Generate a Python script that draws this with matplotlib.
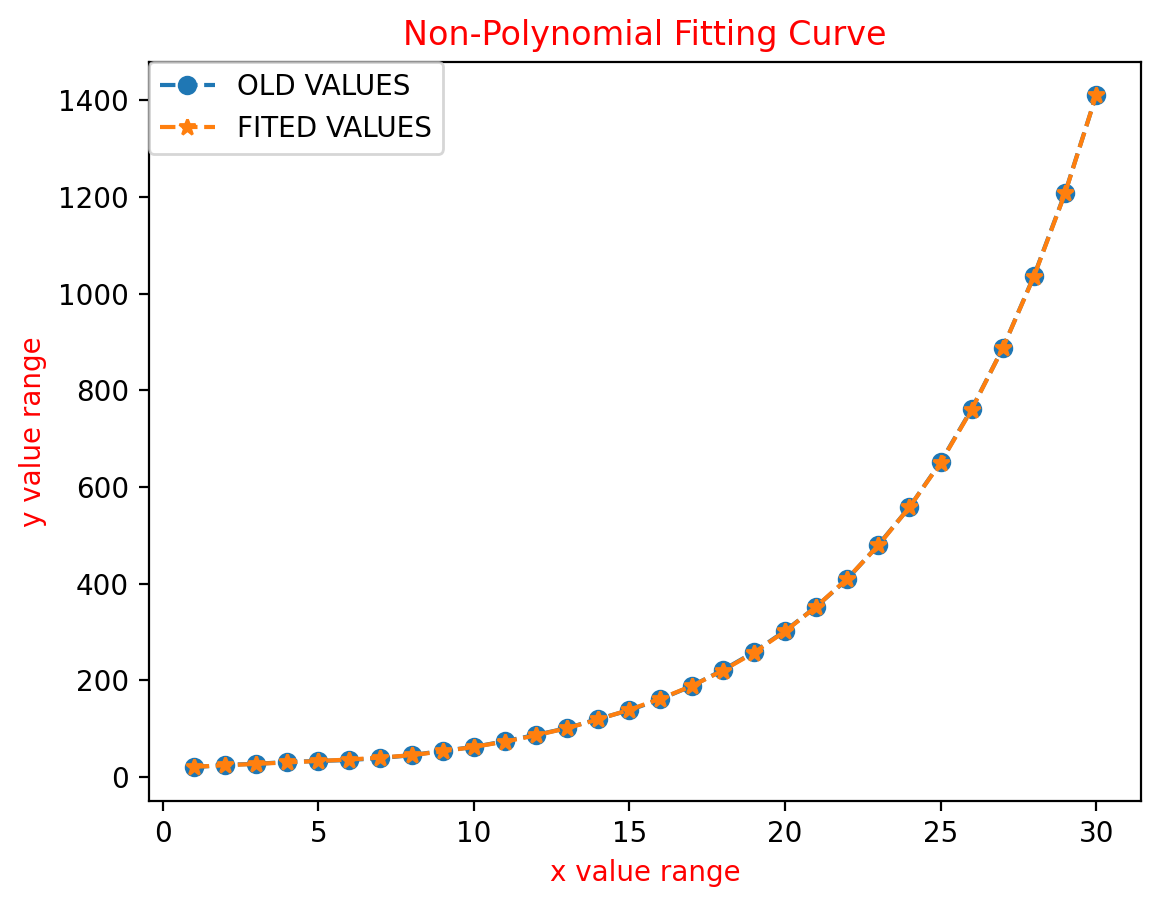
import numpy as np
import matplotlib
matplotlib.use('Agg')
import matplotlib.pyplot as plt

x_values = np.arange(1, 31)
old_values = [20, 25, 27, 31, 33, 35, 39, 45, 54, 62,
              74, 87, 101, 120, 138, 161, 188, 221, 258, 302,
              352, 409, 480, 558, 651, 761, 887, 1036, 1208, 1410]
fitted_values = [21, 24, 27, 30, 33, 36, 40, 45, 53, 62,
                 73, 86, 101, 119, 139, 162, 188, 220, 257, 301,
                 352, 410, 479, 558, 650, 760, 887, 1035, 1207, 1410]

fig = plt.figure(figsize=(5.805, 4.54), dpi=200)
plt.subplots_adjust(left=0.128, right=0.983, top=0.932, bottom=0.118)

plt.plot(x_values, old_values, 'o--', label='OLD VALUES')
plt.plot(x_values, fitted_values, '*--', label='FITED VALUES')
plt.title('Non-Polynomial Fitting Curve', color='red')
plt.xlabel('x value range', color='red')
plt.ylabel('y value range', color='red')
# legend sits right in the corner, over the spines
plt.legend(loc='upper left', borderaxespad=0)
plt.savefig('out.png', dpi=200)
